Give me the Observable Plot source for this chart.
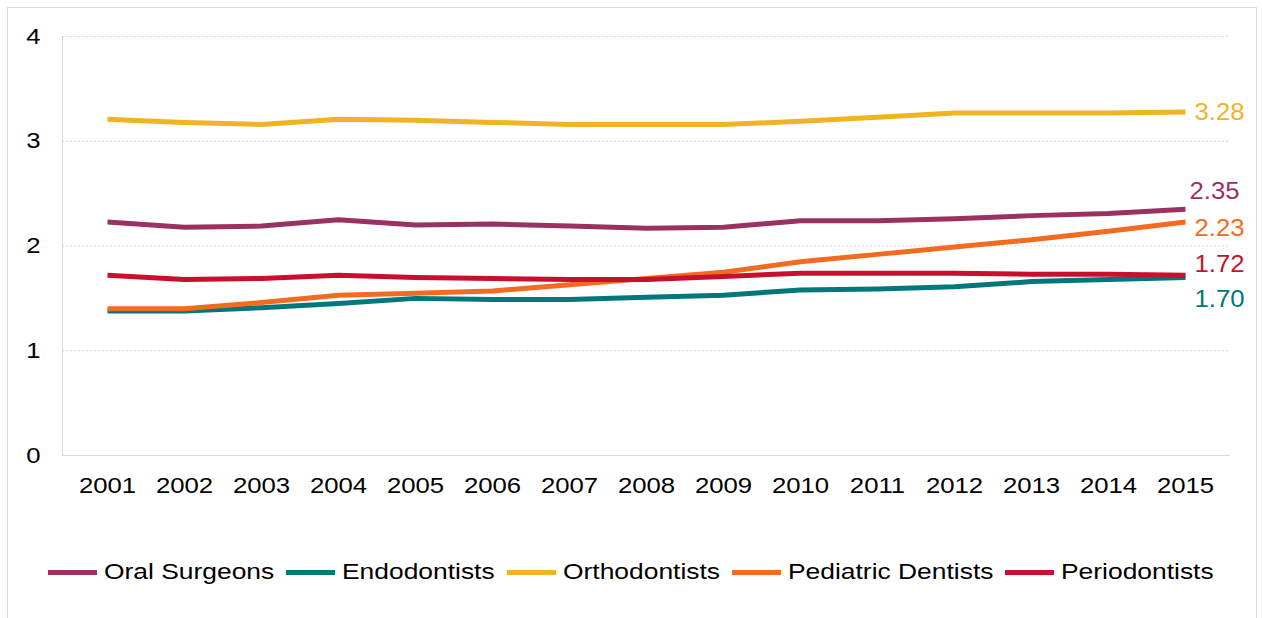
<!DOCTYPE html>
<html><head><meta charset="utf-8">
<script src="https://cdn.jsdelivr.net/npm/d3@7"></script>
<script src="https://cdn.jsdelivr.net/npm/@observablehq/plot@0.6"></script>
<style>
body{margin:0;background:#fff;font-family:"Liberation Sans",Arial,sans-serif;}
#wrap{position:relative;width:1262px;height:618px;overflow:hidden;}
#border{position:absolute;left:7px;top:7px;width:1250px;height:640px;border:1px solid #d9d9d9;box-sizing:border-box;}
#chart{position:absolute;left:0;top:0;}
#legend{position:absolute;left:0;width:1262px;top:558px;height:28px;display:flex;justify-content:center;align-items:center;font-size:22px;color:#000;}
.item{display:flex;align-items:center;margin:0 6px;}
.sw{width:49px;height:5px;margin-right:7px;}
.lab{display:inline-block;transform-origin:left center;white-space:nowrap;}
</style></head><body>
<div id="wrap"><div id="border"></div><div id="chart"></div><div id="legend"></div></div>
<script>
const years = [2001,2002,2003,2004,2005,2006,2007,2008,2009,2010,2011,2012,2013,2014,2015];
const seriesNames = ["Oral Surgeons","Endodontists","Orthodontists","Pediatric Dentists","Periodontists"];
const seriesColors = ["#9B3163","#00777A","#F0B323","#F26B21","#C8102E"];
const oralSurgeons = [2.23,2.18,2.19,2.25,2.20,2.21,2.19,2.17,2.18,2.24,2.24,2.26,2.29,2.31,2.35];
const endodontists = [1.38,1.38,1.41,1.45,1.50,1.49,1.49,1.51,1.53,1.58,1.59,1.61,1.66,1.68,1.70];
const orthodontists = [3.21,3.18,3.16,3.21,3.20,3.18,3.16,3.16,3.16,3.19,3.23,3.27,3.27,3.27,3.28];
const pediatricDentists = [1.40,1.40,1.46,1.53,1.55,1.57,1.63,1.69,1.75,1.85,1.92,1.99,2.06,2.14,2.23];
const periodontists = [1.72,1.68,1.69,1.72,1.70,1.69,1.68,1.68,1.71,1.74,1.74,1.74,1.73,1.73,1.72];
const yTicks = [0,1,2,3,4];

const seriesValues = [oralSurgeons, endodontists, orthodontists, pediatricDentists, periodontists];
// end-label placement offsets (dx, dy) per series
const labelOffsets = [[4,-18],[9,22],[9,0],[9,6],[9,-11]];

const rows = [];
seriesNames.forEach((s, i) => years.forEach((y, j) => rows.push({series: s, year: y, value: seriesValues[i][j]})));

function leftLine(index, scales, values, dims) {
  const l = d3.create("svg:line")
    .attr("x1", dims.marginLeft + 0.5).attr("x2", dims.marginLeft + 0.5)
    .attr("y1", scales.y(4)).attr("y2", scales.y(0))
    .attr("stroke", "#d9d9d9");
  return l.node();
}

const marks = [
  Plot.gridY({ticks: [1,2,3,4], stroke: "#d9d9d9", strokeOpacity: 1, strokeDasharray: "2,2"}),
  Plot.ruleY([0], {stroke: "#d9d9d9"}),
  leftLine,
  Plot.axisY({ticks: yTicks, tickSize: 0, tickPadding: 22, fontSize: 22, tickFormat: d => String(d), label: null}),
  Plot.axisX({tickSize: 0, tickPadding: 22, fontSize: 22, tickFormat: d => String(d), label: null})
];
seriesNames.forEach((s, i) => {
  marks.push(Plot.line(rows.filter(r => r.series === s), {x: "year", y: "value", stroke: seriesColors[i], strokeWidth: 5, strokeLinejoin: "round", strokeLinecap: "butt"}));
});
seriesNames.forEach((s, i) => {
  const last = rows.filter(r => r.series === s && r.year === years[years.length - 1]);
  marks.push(Plot.text(last, {x: "year", y: "value", text: d => d3.format(".2f")(d.value), fill: seriesColors[i], textAnchor: "start", dx: labelOffsets[i][0], dy: labelOffsets[i][1], fontSize: 24}));
});

const chart = Plot.plot({
  width: 1262, height: 530,
  marginLeft: 62, marginRight: 32, marginTop: 36, marginBottom: 75,
  style: {fontFamily: "'Liberation Sans', Arial, sans-serif", color: "#000", background: "transparent", overflow: "visible"},
  x: {type: "point", domain: years, padding: 0.5, align: 0.5},
  y: {domain: [0, 4]},
  marks
});
document.getElementById("chart").appendChild(chart);

// horizontal stretch of text to match reference proportions
chart.querySelectorAll("text").forEach(t => {
  const g = t.closest("g");
  const lab = g ? (g.getAttribute("aria-label") || "") : "";
  const k = lab.includes("tick label") ? 1.17 : 1.07;
  const w = t.getComputedTextLength();
  t.setAttribute("textLength", w * k);
  t.setAttribute("lengthAdjust", "spacingAndGlyphs");
});

const legend = document.getElementById("legend");
seriesNames.forEach((s, i) => {
  const item = document.createElement("div");
  item.className = "item";
  const sw = document.createElement("span");
  sw.className = "sw";
  sw.style.background = seriesColors[i];
  const lab = document.createElement("span");
  lab.className = "lab";
  lab.textContent = s;
  item.appendChild(sw); item.appendChild(lab);
  legend.appendChild(item);
});
legend.querySelectorAll(".lab").forEach(l => {
  const w = l.getBoundingClientRect().width;
  l.style.transform = "scaleX(1.2)";
  l.style.marginRight = (w * 0.2) + "px";
});
</script>
</body></html>
